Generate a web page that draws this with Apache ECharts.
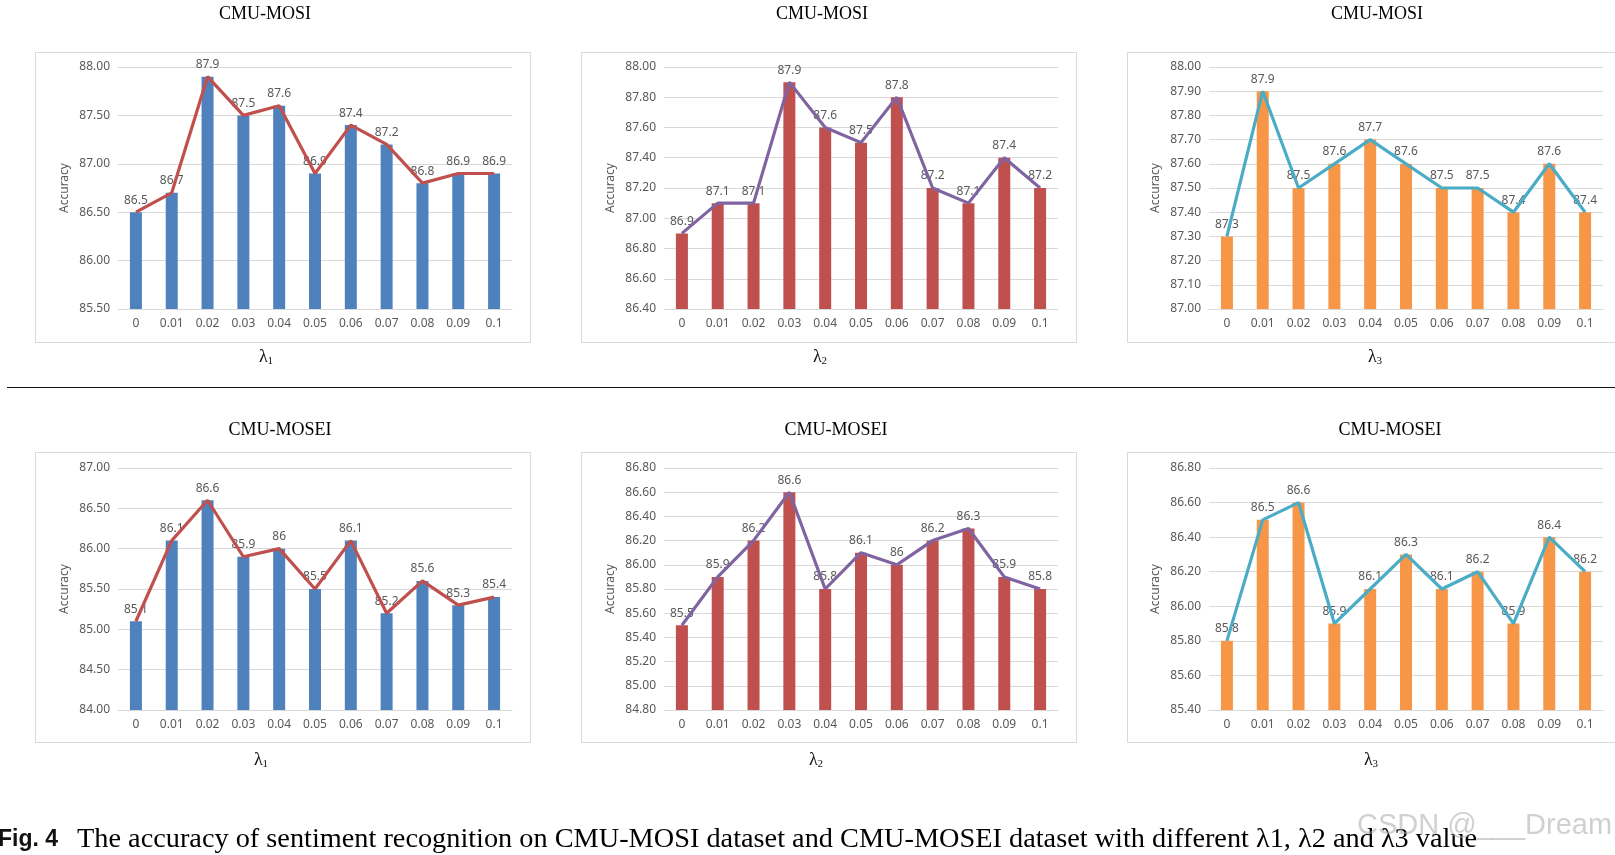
<!DOCTYPE html>
<html>
<head>
<meta charset="utf-8">
<script src="https://cdn.jsdelivr.net/npm/echarts@6/dist/echarts.min.js"></script>
<style>
html,body{margin:0;padding:0;background:#fff;}
#c{width:1615px;height:855px;}
</style>
</head>
<body>
<div id="c"></div>
<script>
// ---- data ----
const categories = ['0','0.01','0.02','0.03','0.04','0.05','0.06','0.07','0.08','0.09','0.1'];
const mosiLambda1  = [86.5, 86.7, 87.9, 87.5, 87.6, 86.9, 87.4, 87.2, 86.8, 86.9, 86.9];
const mosiLambda2  = [86.9, 87.1, 87.1, 87.9, 87.6, 87.5, 87.8, 87.2, 87.1, 87.4, 87.2];
const mosiLambda3  = [87.3, 87.9, 87.5, 87.6, 87.7, 87.6, 87.5, 87.5, 87.4, 87.6, 87.4];
const moseiLambda1 = [85.1, 86.1, 86.6, 85.9, 86.0, 85.5, 86.1, 85.2, 85.6, 85.3, 85.4];
const moseiLambda2 = [85.5, 85.9, 86.2, 86.6, 85.8, 86.1, 86.0, 86.2, 86.3, 85.9, 85.8];
const moseiLambda3 = [85.8, 86.5, 86.6, 85.9, 86.1, 86.3, 86.1, 86.2, 85.9, 86.4, 86.2];
const panelTitles = ['CMU-MOSI','CMU-MOSI','CMU-MOSI','CMU-MOSEI','CMU-MOSEI','CMU-MOSEI'];
const lambdaSubs = ['1','2','3','1','2','3'];
const yMin = [85.5, 86.4, 87.0, 84.0, 84.8, 85.4];
const yMax = [88.0, 88.0, 88.0, 87.0, 86.8, 86.8];
const yStep = [0.5, 0.2, 0.1, 0.5, 0.2, 0.2];
const yAxisName = 'Accuracy';
const captionLead = 'Fig. 4';
const captionText = 'The accuracy of sentiment recognition on CMU-MOSI dataset and CMU-MOSEI dataset with different \u03bb1, \u03bb2 and \u03bb3 value';
const watermark = 'CSDN @___Dream';

const seriesData = [mosiLambda1, mosiLambda2, mosiLambda3, moseiLambda1, moseiLambda2, moseiLambda3];

// ---- layout / style ----
const gridLeft = [118, 664, 1209];
const gridTop = [67, 468];
const gridW = 394, gridH = 242;
const boxLeft = [35, 581, 1127];
const boxTop = [52, 452];
const boxW = 495, boxH = 290;
const titleX = [[260, 817, 1372], [275, 831, 1385]];
const titleY = [0, 416];
const lambdaX = [[266, 820, 1375], [261, 816, 1371]];
const lambdaY = [348, 751];
const barColors = ['#4F81BD', '#C0504D', '#F79646'];
const lineColors = ['#C0504D', '#8064A2', '#4BACC6'];
const tickFont = 'Noto Sans';
const gray = '#595959';

const grids = [], xAxes = [], yAxes = [], series = [], titles = [], graphics = [];
for (let i = 0; i < 6; i++) {
  const r = Math.floor(i / 3), c = i % 3;
  grids.push({left: gridLeft[c], top: gridTop[r], width: gridW, height: gridH, containLabel: false});
  xAxes.push({
    type: 'category', gridIndex: i, data: categories,
    axisTick: {show: false},
    axisLine: {show: true, lineStyle: {color: '#D9D9D9', width: 1}},
    axisLabel: {color: gray, fontSize: 12, fontFamily: tickFont, margin: 9}
  });
  yAxes.push({
    type: 'value', gridIndex: i, min: yMin[i], max: yMax[i], interval: yStep[i],
    name: yAxisName, nameLocation: 'middle', nameGap: 47, nameRotate: 90,
    nameTextStyle: {color: gray, fontSize: 12, fontFamily: tickFont},
    axisLine: {show: false}, axisTick: {show: false},
    axisLabel: {color: gray, fontSize: 12, fontFamily: tickFont, margin: 8,
      formatter: v => v.toFixed(2)},
    splitLine: {lineStyle: {color: '#D9D9D9', width: 1}}
  });
  series.push({
    type: 'bar', xAxisIndex: i, yAxisIndex: i, data: seriesData[i],
    barWidth: 12, itemStyle: {color: barColors[c]}, silent: true,
    label: {show: true, position: 'top', distance: 6, color: gray, fontSize: 12, fontFamily: tickFont},
    z: 2
  });
  series.push({
    type: 'line', xAxisIndex: i, yAxisIndex: i, data: seriesData[i],
    symbol: 'none', lineStyle: {color: lineColors[c], width: 3.2}, silent: true, z: 3
  });
  titles.push({
    text: panelTitles[i], left: titleX[r][c], top: titleY[r], textAlign: 'center',
    textStyle: {fontFamily: 'Liberation Serif', fontSize: 18, fontWeight: 'normal', color: '#000'}
  });
  graphics.push({
    type: 'rect', shape: {x: boxLeft[c] + 0.5, y: boxTop[r] + 0.5, width: boxW, height: boxH},
    style: {fill: 'none', stroke: '#D9D9D9', lineWidth: 1}, z: -1
  });
  graphics.push({
    type: 'text', x: lambdaX[r][c], y: lambdaY[r],
    style: {
      text: '\u03bb{s|' + lambdaSubs[i] + '}',
      font: '18px "Liberation Serif"', fill: '#111', textAlign: 'center',
      rich: {s: {fontSize: 11, fontFamily: 'Liberation Serif', fill: '#111', padding: [8, 0, 0, 0]}}
    }
  });
}
// separator line
graphics.push({type: 'line', shape: {x1: 7, y1: 387.5, x2: 1615, y2: 387.5}, style: {stroke: '#111', lineWidth: 1}});
// caption
graphics.push({type: 'text', x: -2, y: 840, style: {text: captionLead, font: 'bold 23px "Liberation Sans"', fill: '#111', textVerticalAlign: 'middle'}});
graphics.push({type: 'text', x: 77, y: 840, style: {text: captionText, font: '28.3px "Liberation Serif"', fill: '#000', textVerticalAlign: 'middle'}});
graphics.push({type: 'text', x: 1357, y: 826, style: {text: watermark, font: '29px "Liberation Sans"', fill: 'rgba(170,170,170,0.55)', textVerticalAlign: 'middle'}});

const chart = echarts.init(document.getElementById('c'), null, {renderer: 'canvas'});
chart.setOption({
  animation: false,
  backgroundColor: '#fff',
  title: titles,
  grid: grids,
  xAxis: xAxes,
  yAxis: yAxes,
  series: series,
  graphic: graphics
});
</script>
</body>
</html>
